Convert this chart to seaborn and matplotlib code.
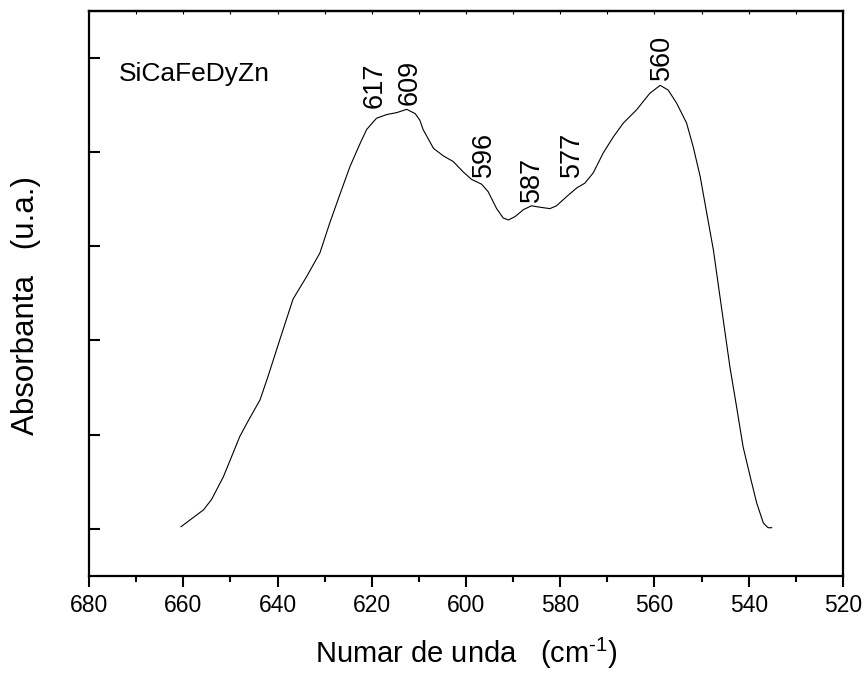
import matplotlib
matplotlib.use("Agg")
import matplotlib.pyplot as plt
from matplotlib.ticker import MultipleLocator
import seaborn as sns
import pandas as pd

# Data
wavenumber = [660.5, 655.7, 654.0, 651.5, 648.0, 646.5, 643.7, 642.0, 639.5, 636.7,
              633.8, 631.0, 628.9, 626.7, 624.6, 622.5, 621.1, 619.0, 616.8, 614.7,
              612.6, 610.8, 609.8, 609.1, 606.9, 604.8, 602.7, 600.6, 598.8, 596.7,
              595.3, 593.5, 592.1, 591.0, 589.6, 587.8, 586.1, 584.3, 582.2, 580.8,
              578.6, 576.5, 574.8, 573.0, 570.9, 568.7, 566.6, 563.8, 561.0, 558.8,
              557.1, 555.3, 553.2, 551.8, 550.3, 549.3, 547.5, 545.7, 544.0, 542.6,
              541.2, 539.7, 538.3, 536.9, 535.9, 535.1]
absorbance = [0.02, 0.20, 0.31, 0.55, 0.98, 1.12, 1.37, 1.62, 2.01, 2.44,
              2.68, 2.93, 3.25, 3.56, 3.85, 4.09, 4.24, 4.36, 4.40, 4.42,
              4.455, 4.41, 4.34, 4.24, 4.04, 3.96, 3.90, 3.79, 3.71, 3.66,
              3.58, 3.40, 3.30, 3.28, 3.315, 3.39, 3.43, 3.415, 3.40, 3.43,
              3.53, 3.62, 3.67, 3.78, 3.99, 4.165, 4.31, 4.45, 4.625, 4.71,
              4.66, 4.52, 4.31, 4.06, 3.74, 3.46, 2.96, 2.32, 1.72, 1.30,
              0.87, 0.555, 0.27, 0.06, 0.01, 0.01]

peak_labels = ["617", "609", "596", "587", "577", "560"]
peak_label_x = [619.3, 611.9, 596.2, 586.0, 577.5, 558.4]
peak_label_y = [4.47, 4.50, 3.74, 3.47, 3.74, 4.77]

x_ticks = [680, 660, 640, 620, 600, 580, 560, 540, 520]
y_ticks = [0, 1, 2, 3, 4, 5]

sns.set_style("ticks")
plt.rcParams["font.family"] = ["Liberation Sans", "DejaVu Sans"]
plt.rcParams["mathtext.fontset"] = "custom"
plt.rcParams["mathtext.rm"] = "Liberation Sans"
plt.rcParams["mathtext.it"] = "Liberation Sans"
plt.rcParams["text.color"] = "black"
plt.rcParams["axes.labelcolor"] = "black"
plt.rcParams["xtick.color"] = "black"
plt.rcParams["ytick.color"] = "black"

fig = plt.figure(figsize=(8.67, 6.77), dpi=100)
ax = fig.add_axes([0.1027, 0.1496, 0.8696, 0.8342])

df = pd.DataFrame({"wavenumber": wavenumber, "absorbance": absorbance})
sns.lineplot(data=df, x="wavenumber", y="absorbance", ax=ax, color="black",
             linewidth=0.8, sort=False, estimator=None)

ax.set_xlim(680, 520)
ax.set_ylim(-0.5, 5.5)
ax.set_xticks(x_ticks)
ax.set_xticklabels([str(t) for t in x_ticks])
ax.xaxis.set_minor_locator(MultipleLocator(10))
ax.set_yticks(y_ticks)
ax.set_yticklabels([])

for s in ax.spines.values():
    s.set_linewidth(1.6)
    s.set_color("black")

ax.tick_params(axis="x", which="major", direction="out", length=8, width=1.5,
               labelsize=16.5, pad=5, colors="black")
ax.tick_params(axis="x", which="minor", direction="out", length=4.5, width=1.5)
ax.tick_params(axis="y", which="major", direction="in", length=8, width=1.5,
               left=True, right=False)

top = ax.secondary_xaxis("top")
top.set_xticks(list(range(520, 681, 10)))
top.tick_params(direction="in", length=2, width=0.8, labeltop=False)
top.spines["top"].set_linewidth(1.6)

ax.set_xlabel(r"Numar de unda   (cm$^{\text{-}1}$)", fontsize=21, labelpad=14)
ax.set_ylabel("Absorbanta   (u.a.)", fontsize=22.5, labelpad=31)
ax.yaxis.label.set_y(0.479)

for lab, lx, ly in zip(peak_labels, peak_label_x, peak_label_y):
    ax.text(lx, ly, lab, rotation=90, ha="center", va="bottom", fontsize=19.5)

ax.text(0.0398, 0.876, "SiCaFeDyZn", transform=ax.transAxes, fontsize=19,
        ha="left", va="baseline")

fig.savefig("out.png", dpi=100)
